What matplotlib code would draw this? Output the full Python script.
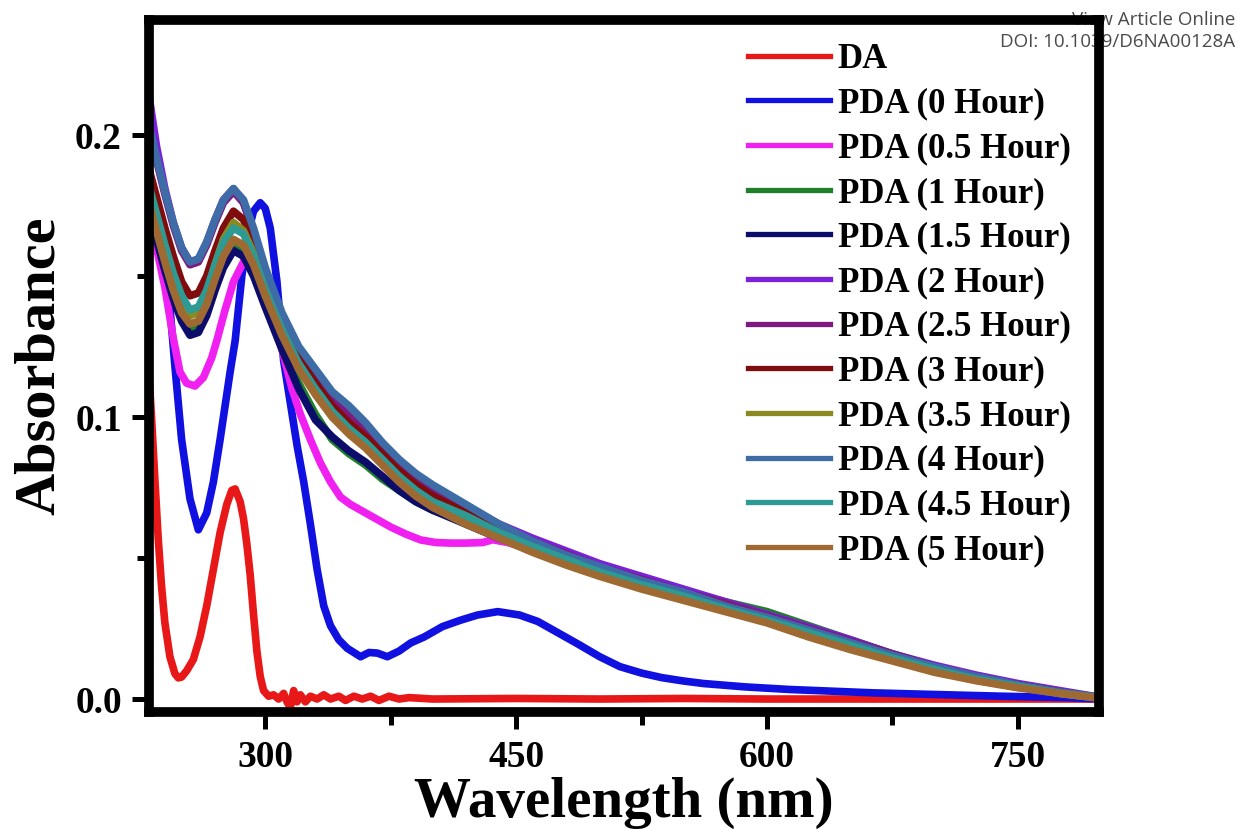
import matplotlib.pyplot as plt
from matplotlib.ticker import MultipleLocator, FormatStrFormatter

plt.rcParams['font.family'] = ['Liberation Serif', 'DejaVu Serif']
plt.rcParams['font.weight'] = 'bold'

# DA (monomer) spectrum
da_wl = [230, 232, 234, 236, 238, 240, 243, 246, 248, 250, 253, 257, 261, 265, 269,
         273, 277, 280, 282, 285, 287, 289, 291, 293, 295, 297, 299, 302, 305, 308,
         311, 313, 315, 317, 319, 321, 324, 327, 331, 335, 339, 344, 348, 353, 358,
         363, 368, 374, 380, 386, 400, 450, 500, 550, 600, 650, 700, 750, 800]
da_abs = [0.120, 0.100, 0.078, 0.057, 0.040, 0.027, 0.015, 0.009, 0.0075, 0.0078,
          0.010, 0.014, 0.022, 0.033, 0.046, 0.059, 0.069, 0.074, 0.0745, 0.070,
          0.064, 0.055, 0.044, 0.030, 0.017, 0.008, 0.003, 0.001, 0.0015, 0.000,
          0.002, -0.001, -0.003, 0.003, -0.001, 0.0015, -0.001, 0.001, 0.0, 0.0015,
          0.0, 0.001, -0.0005, 0.001, 0.0, 0.001, -0.0005, 0.001, 0.0, 0.0005,
          0.0, 0.0002, 0.0, 0.0002, 0.0, 0.0, 0.0, 0.0, 0.0]

# PDA, 0 hour
pda0_wl = [230, 235, 240, 243, 246, 250, 255, 260, 265, 269, 273, 276, 279, 282, 286,
           290, 293, 297, 300, 303, 307, 311, 315, 319, 323, 327, 331, 335, 339, 344,
           349, 353, 357, 362, 367, 373, 380, 387, 395, 406, 417, 427, 439, 452, 463,
           475, 487, 500, 512, 525, 537, 550, 562, 587, 613, 638, 663, 688, 714, 740,
           764, 780, 800]
pda0_abs = [0.178, 0.168, 0.153, 0.139, 0.118, 0.092, 0.071, 0.060, 0.066, 0.077,
            0.092, 0.104, 0.116, 0.127, 0.150, 0.166, 0.173, 0.176, 0.174, 0.167,
            0.148, 0.120, 0.105, 0.090, 0.077, 0.062, 0.046, 0.033, 0.026, 0.021,
            0.018, 0.0165, 0.015, 0.0165, 0.0163, 0.015, 0.017, 0.0199, 0.022, 0.0257,
            0.028, 0.0298, 0.031, 0.0298, 0.0275, 0.0235, 0.0195, 0.015, 0.0115, 0.0092,
            0.0076, 0.0064, 0.0055, 0.0043, 0.0034, 0.0028, 0.0022, 0.0018, 0.0014, 0.001,
            0.0007, 0.0005, 0.0]

# PDA, 0.5 hour
pda05_wl = [230, 235, 240, 245, 249, 253, 258, 263, 268, 271, 276, 281, 287, 293, 300,
            310, 316, 321, 327, 333, 339, 345, 351, 357, 366, 375, 384, 393, 402, 411,
            420, 430, 436, 445, 460, 480, 500, 525, 550, 575, 600, 625, 650, 675, 700,
            725, 750, 775, 800]
pda05_abs = [0.172, 0.160, 0.146, 0.128, 0.116, 0.112, 0.111, 0.114, 0.121, 0.127,
             0.138, 0.148, 0.155, 0.153, 0.143, 0.124, 0.110, 0.101, 0.092, 0.0837,
             0.077, 0.0716, 0.069, 0.067, 0.064, 0.061, 0.0585, 0.0564, 0.0555, 0.0553,
             0.0553, 0.0555, 0.0565, 0.0555, 0.053, 0.048, 0.044, 0.0395, 0.0355, 0.0315,
             0.0275, 0.0225, 0.018, 0.0138, 0.0098, 0.0067, 0.0042, 0.002, 0.0002]

# PDA, 1 to 5 hours (common wavelength grid)
wl = [230, 235, 240, 245, 250, 255, 260, 265, 270, 275, 281, 287, 293, 300, 310, 320,
      330, 340, 350, 360, 370, 380, 390, 400, 420, 440, 460, 480, 500, 525, 550, 575,
      600, 625, 650, 675, 700, 725, 750, 775, 800]
pda_1h = [0.176, 0.165, 0.154, 0.144, 0.136, 0.131, 0.132, 0.138, 0.147, 0.155, 0.160,
          0.158, 0.151, 0.140, 0.125, 0.112, 0.101, 0.092, 0.087, 0.083, 0.078, 0.074,
          0.070, 0.067, 0.063, 0.059, 0.055, 0.051, 0.047, 0.0425, 0.0385, 0.0345,
          0.031, 0.026, 0.021, 0.016, 0.0115, 0.008, 0.005, 0.0025, 0.0005]
pda_1_5h = [0.174, 0.163, 0.152, 0.142, 0.134, 0.129, 0.130, 0.136, 0.145, 0.153, 0.159,
            0.157, 0.150, 0.139, 0.124, 0.110, 0.099, 0.093, 0.088, 0.084, 0.079, 0.074,
            0.070, 0.067, 0.062, 0.057, 0.053, 0.049, 0.045, 0.0405, 0.0365, 0.0325,
            0.028, 0.0235, 0.019, 0.0145, 0.0105, 0.007, 0.0045, 0.002, 0.0003]
pda_2h = [0.216, 0.196, 0.181, 0.169, 0.160, 0.155, 0.156, 0.162, 0.170, 0.177, 0.181,
          0.176, 0.166, 0.152, 0.136, 0.123, 0.114, 0.106, 0.101, 0.096, 0.089, 0.083,
          0.078, 0.074, 0.068, 0.062, 0.057, 0.0525, 0.048, 0.0435, 0.039, 0.0345,
          0.030, 0.0255, 0.021, 0.016, 0.012, 0.0085, 0.0055, 0.003, 0.0005]
pda_2_5h = [0.203, 0.191, 0.179, 0.168, 0.159, 0.154, 0.155, 0.161, 0.169, 0.176, 0.180,
            0.176, 0.166, 0.152, 0.136, 0.123, 0.114, 0.106, 0.101, 0.095, 0.089, 0.083,
            0.078, 0.074, 0.068, 0.0615, 0.056, 0.0515, 0.047, 0.0425, 0.038, 0.034,
            0.0295, 0.025, 0.0205, 0.016, 0.0115, 0.008, 0.005, 0.0025, 0.0003]
pda_3h = [0.189, 0.178, 0.167, 0.157, 0.148, 0.143, 0.144, 0.150, 0.159, 0.167, 0.173,
          0.170, 0.161, 0.148, 0.133, 0.121, 0.112, 0.104, 0.098, 0.093, 0.087, 0.081,
          0.076, 0.072, 0.066, 0.060, 0.055, 0.050, 0.046, 0.041, 0.037, 0.033,
          0.029, 0.024, 0.0195, 0.015, 0.011, 0.0075, 0.005, 0.0025, 0.0003]
pda_3_5h = [0.181, 0.170, 0.159, 0.149, 0.141, 0.136, 0.137, 0.144, 0.154, 0.163, 0.169,
            0.166, 0.158, 0.146, 0.131, 0.118, 0.109, 0.101, 0.095, 0.090, 0.084, 0.078,
            0.073, 0.069, 0.064, 0.058, 0.0535, 0.049, 0.045, 0.040, 0.036, 0.032,
            0.028, 0.023, 0.0185, 0.014, 0.010, 0.007, 0.0045, 0.002, 0.0003]
pda_4h = [0.205, 0.192, 0.180, 0.169, 0.160, 0.155, 0.156, 0.162, 0.170, 0.177, 0.181,
          0.177, 0.167, 0.153, 0.137, 0.125, 0.117, 0.109, 0.104, 0.098, 0.091, 0.085,
          0.080, 0.076, 0.069, 0.062, 0.056, 0.051, 0.047, 0.042, 0.038, 0.033,
          0.029, 0.0245, 0.020, 0.0155, 0.0115, 0.008, 0.005, 0.0025, 0.0005]
pda_4_5h = [0.183, 0.172, 0.161, 0.151, 0.143, 0.138, 0.139, 0.145, 0.154, 0.162, 0.167,
            0.165, 0.157, 0.145, 0.131, 0.119, 0.110, 0.102, 0.096, 0.091, 0.085, 0.079,
            0.074, 0.070, 0.065, 0.059, 0.054, 0.0495, 0.045, 0.0405, 0.0365, 0.032,
            0.028, 0.0235, 0.019, 0.0145, 0.0105, 0.007, 0.0045, 0.002, 0.0003]
pda_5h = [0.177, 0.166, 0.155, 0.145, 0.137, 0.133, 0.134, 0.140, 0.149, 0.157, 0.163,
          0.161, 0.154, 0.143, 0.129, 0.117, 0.108, 0.100, 0.094, 0.089, 0.083, 0.077,
          0.072, 0.068, 0.062, 0.057, 0.052, 0.0475, 0.0435, 0.039, 0.035, 0.031,
          0.027, 0.022, 0.0175, 0.0135, 0.0095, 0.0065, 0.004, 0.002, 0.0002]

labels = ['DA', 'PDA (0 Hour)', 'PDA (0.5 Hour)', 'PDA (1 Hour)', 'PDA (1.5 Hour)',
          'PDA (2 Hour)', 'PDA (2.5 Hour)', 'PDA (3 Hour)', 'PDA (3.5 Hour)',
          'PDA (4 Hour)', 'PDA (4.5 Hour)', 'PDA (5 Hour)']
colors = ['#e81818', '#1010e0', '#f020f0', '#20802a', '#0c0c6a', '#7b20dc',
          '#7e1a80', '#800d0d', '#8a8a20', '#3e6ca6', '#2d9a94', '#9e6a32']
spectra = [(da_wl, da_abs), (pda0_wl, pda0_abs), (pda05_wl, pda05_abs),
           (wl, pda_1h), (wl, pda_1_5h), (wl, pda_2h), (wl, pda_2_5h), (wl, pda_3h),
           (wl, pda_3_5h), (wl, pda_4h), (wl, pda_4_5h), (wl, pda_5h)]

fig = plt.figure(figsize=(12.38, 8.3), dpi=100)
ax = fig.add_axes([149 / 1238, 1 - 712 / 830, 950 / 1238, 692 / 830])
ax.set_facecolor('none')

for (x, y), lab, c in zip(spectra, labels, colors):
    ax.plot(x, y, color=c, lw=5.5, label=lab, solid_joinstyle='round')

ax.set_xlim(230.5, 798.5)
ax.set_ylim(-0.0046, 0.2408)

ax.xaxis.set_major_locator(MultipleLocator(150))
ax.xaxis.set_minor_locator(MultipleLocator(75))
ax.yaxis.set_major_locator(MultipleLocator(0.1))
ax.yaxis.set_minor_locator(MultipleLocator(0.05))
ax.yaxis.set_major_formatter(FormatStrFormatter('%.1f'))

for sp in ax.spines.values():
    sp.set_linewidth(7)
ax.tick_params(which='both', direction='out', top=False, right=False, width=3.6)
ax.tick_params(which='major', length=12.5, labelsize=27)
ax.tick_params(which='minor', length=9)
ax.tick_params(axis='x', which='major', pad=8)
ax.tick_params(axis='y', which='major', pad=7)

ax.set_xlabel('Wavelength (nm)', fontsize=41, fontweight='bold')
ax.set_ylabel('Absorbance', fontsize=42, fontweight='bold')
ax.xaxis.set_label_coords(0.5, -0.094)
ax.yaxis.set_label_coords(-0.087, 0.5)

leg = ax.legend(loc='upper left', bbox_to_anchor=(748 / 1238, 1 - 43 / 830),
                bbox_transform=fig.transFigure, frameon=False, fontsize=25,
                borderpad=0, borderaxespad=0, labelspacing=0.335,
                handlelength=2.36, handletextpad=0.23)
for line in leg.get_lines():
    line.set_linewidth(3.8)

fig.text(0.998, 1 - 20 / 830, 'View Article Online', ha='right', va='center',
         fontsize=13.5, color='#4a4a4a', family='Open Sans', fontweight='normal', zorder=-1)
fig.text(0.998, 1 - 42 / 830, 'DOI: 10.1039/D6NA00128A', ha='right', va='center',
         fontsize=13.5, color='#4a4a4a', family='Open Sans', fontweight='normal', zorder=-1)

fig.savefig('out.png', dpi=100, facecolor='white')
